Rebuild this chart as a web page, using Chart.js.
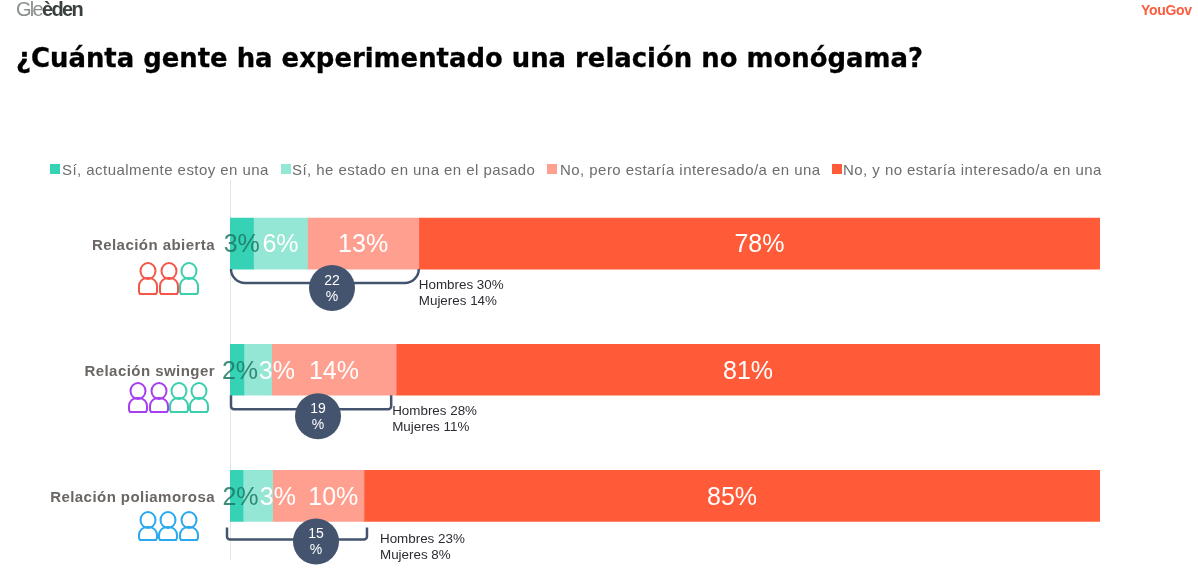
<!DOCTYPE html>
<html lang="es">
<head>
<meta charset="utf-8">
<title>¿Cuánta gente ha experimentado una relación no monógama?</title>
<script src="https://cdn.jsdelivr.net/npm/chart.js@4"></script>
<style>
  html, body { margin: 0; padding: 0; background: #fff; overflow: hidden; }
  #wrap { position: relative; width: 1198px; height: 574px; overflow: hidden; font-family: "Liberation Sans", sans-serif; }
  canvas { position: absolute; left: 0; top: 0; }
  .abs { position: absolute; white-space: nowrap; }
  #title { left: 16px; top: 42px; margin: 0; font-family: "DejaVu Sans", sans-serif; font-size: 25.9px; line-height: 32px; font-weight: bold; color: #000; -webkit-text-stroke: 0.3px #000; }
  #logo-left { left: 16px; top: -3px; font-size: 20px; line-height: 24px; letter-spacing: -1.7px; color: #8a8f8f; }
  #logo-left b { color: #39403f; }
  #logo-right { left: 1141px; top: 2px; font-size: 14px; line-height: 16px; font-weight: bold; color: #ff5b3c; letter-spacing: -0.3px; }
  .legend-box { width: 10px; height: 10px; top: 164px; }
  .legend-text { top: 161px; font-size: 15px; line-height: 18px; color: #6d6d6d; letter-spacing: 0.45px; }
</style>
</head>
<body>
<div id="wrap">
  <canvas id="chart" width="1198" height="583"></canvas>
  <div class="abs" id="logo-left">Gle<b>èden</b></div>
  <div class="abs" id="logo-right">YouGov</div>
  <h1 class="abs" id="title">¿Cuánta gente ha experimentado una relación no monógama?</h1>
  <div id="legend"></div>
</div>
<script>
// data
const categories = ["Relación abierta", "Relación swinger", "Relación poliamorosa"];
const seriesNames = [
  "Sí, actualmente estoy en una",
  "Sí, he estado en una en el pasado",
  "No, pero estaría interesado/a en una",
  "No, y no estaría interesado/a en una",
];
const currently = [2.7, 1.6, 1.5];
const past = [6.2, 3.2, 3.4];
const interested = [12.8, 14.3, 10.5];
const notInterested = [78.3, 80.9, 84.6];
const currentlyLabels = ["3%", "2%", "2%"];
const pastLabels = ["6%", "3%", "3%"];
const interestedLabels = ["13%", "14%", "10%"];
const notInterestedLabels = ["78%", "81%", "85%"];
const totalLabels = ["22", "19", "15"];
const menLabels = ["Hombres 30%", "Hombres 28%", "Hombres 23%"];
const womenLabels = ["Mujeres 14%", "Mujeres 11%", "Mujeres 8%"];

// styles and layout, kept apart from the values
const seriesColors = ["#35d2b5", "#95e7d5", "#ff9f8f", "#ff5b38"];
const labelColors = ["rgba(30,120,100,0.85)", "#fff", "#fff", "#fff"];
const legendLefts = [50, 281, 547, 832];
const legendTextLefts = [62, 292, 560, 843];
const labelShifts = [
  [0, 0, 0, 0],
  [3, 19, 0, 0],
  [4, 20, 15, 0],
];
const bubbleColor = "#44546f";
const bracketLayout = [
  { startDx: 1, endDx: 0, gap: 0, drop: 14, radius: 14, bubbleDx: 102, bubbleDy: 19 },
  { startDx: 1, endDx: -5, gap: 0, drop: 14, radius: 3, bubbleDx: 88, bubbleDy: 21 },
  { startDx: -3, endDx: 3, gap: 6, drop: 12, radius: 3, bubbleDx: 86, bubbleDy: 14 },
];
const genderLayout = [
  { dx: 0, dy: 15 },
  { dx: -4, dy: 15 },
  { dx: 16, dy: 13 },
];
const peopleLayout = [
  { lefts: [139, 160, 180], top: 263, height: 31, colors: ["#f4564a", "#f4564a", "#3ccfae"] },
  { lefts: [129, 150, 170, 190], top: 383, height: 29, colors: ["#a53ff0", "#a53ff0", "#3ccfae", "#3ccfae"] },
  { lefts: [139, 159, 180], top: 512, height: 28, colors: ["#2ba9ee", "#2ba9ee", "#2ba9ee"] },
];

// legend
const legendEl = document.getElementById("legend");
seriesNames.forEach((name, i) => {
  const box = document.createElement("div");
  box.className = "abs legend-box";
  box.style.left = legendLefts[i] + "px";
  box.style.background = seriesColors[i];
  const text = document.createElement("div");
  text.className = "abs legend-text";
  text.style.left = legendTextLefts[i] + "px";
  text.textContent = name;
  legendEl.appendChild(box);
  legendEl.appendChild(text);
});

function drawPerson(ctx, left, top, height, color) {
  const w = 18;
  const cx = left + w / 2;
  const headRy = 8;
  const bodyTop = top + headRy * 2 - 1;
  const bottom = top + height;
  const r = 8;
  ctx.strokeStyle = color;
  ctx.lineWidth = 2;
  ctx.beginPath();
  ctx.ellipse(cx, top + headRy, 7.5, headRy, 0, 0, Math.PI * 2);
  ctx.stroke();
  ctx.beginPath();
  ctx.moveTo(left + 1, bottom);
  ctx.lineTo(left + w - 1, bottom);
  ctx.lineTo(left + w, bottom - 2);
  ctx.lineTo(left + w, bodyTop + r);
  ctx.arcTo(left + w, bodyTop, cx, bodyTop, r);
  ctx.arcTo(left, bodyTop, left, bodyTop + r, r);
  ctx.lineTo(left, bottom - 2);
  ctx.closePath();
  ctx.stroke();
}

// wider tracking on the category labels, as in the original
const tickSpacing = {
  id: "tickSpacing",
  beforeDraw(chart) {
    chart.ctx.letterSpacing = "0.45px";
  },
};

// labels, brackets, bubbles and people icons
const annotations = {
  id: "annotations",
  afterDatasetsDraw(chart) {
    const ctx = chart.ctx;
    const x = chart.scales.x;
    const labelSets = [currentlyLabels, pastLabels, interestedLabels, notInterestedLabels];

    ctx.save();
    ctx.letterSpacing = "0px";
    ctx.textAlign = "center";
    ctx.textBaseline = "middle";
    ctx.font = '25px "Liberation Sans"';
    chart.data.datasets.forEach((ds, d) => {
      chart.getDatasetMeta(d).data.forEach((bar, row) => {
        ctx.fillStyle = labelColors[d];
        ctx.fillText(labelSets[d][row], (bar.x + bar.base) / 2 + labelShifts[row][d], bar.y + 2);
      });
    });

    chart.getDatasetMeta(0).data.forEach((bar, row) => {
      const layout = bracketLayout[row];
      const stackEnd = x.getPixelForValue(currently[row] + past[row] + interested[row]);
      const x0 = x.getPixelForValue(0) + layout.startDx;
      const x1 = stackEnd + layout.endDx;
      const y0 = bar.y + 25.5 + layout.gap;
      const y1 = y0 + layout.drop;

      ctx.strokeStyle = bubbleColor;
      ctx.lineWidth = 2.5;
      ctx.beginPath();
      ctx.moveTo(x0, y0);
      ctx.arcTo(x0, y1, x1, y1, layout.radius);
      ctx.arcTo(x1, y1, x1, y0, layout.radius);
      ctx.lineTo(x1, y0);
      ctx.stroke();

      const bx = x.getPixelForValue(0) + layout.bubbleDx;
      const by = y0 + layout.bubbleDy;
      ctx.fillStyle = bubbleColor;
      ctx.beginPath();
      ctx.arc(bx, by, 23, 0, Math.PI * 2);
      ctx.fill();
      ctx.fillStyle = "#fff";
      ctx.textAlign = "center";
      ctx.font = '14px "Liberation Sans"';
      ctx.fillText(totalLabels[row], bx, by - 7);
      ctx.fillText("%", bx, by + 9);

      const gender = genderLayout[row];
      ctx.fillStyle = "#2b2b33";
      ctx.textAlign = "left";
      ctx.font = '13.4px "Liberation Sans"';
      ctx.fillText(menLabels[row], stackEnd + gender.dx, y1 + gender.dy - 13);
      ctx.fillText(womenLabels[row], stackEnd + gender.dx, y1 + gender.dy + 3);
      ctx.textAlign = "center";

      const people = peopleLayout[row];
      people.lefts.forEach((left, i) => {
        drawPerson(ctx, left, people.top, people.height, people.colors[i]);
      });
    });
    ctx.restore();
  },
};

new Chart(document.getElementById("chart"), {
  type: "bar",
  data: {
    labels: categories,
    datasets: [currently, past, interested, notInterested].map((values, i) => ({
      label: seriesNames[i],
      data: values,
      backgroundColor: seriesColors[i],
      borderWidth: 0,
      barThickness: 51,
    })),
  },
  options: {
    indexAxis: "y",
    responsive: false,
    animation: false,
    layout: { padding: { top: 180.5, right: 98, bottom: 6.5, left: 0 } },
    scales: {
      x: { stacked: true, min: 0, max: 100, display: false },
      y: {
        stacked: true,
        afterFit(scale) { scale.width = 230; },
        grid: { display: false, drawTicks: false },
        border: { display: true, color: "#e4e4e4", width: 1 },
        ticks: {
          color: "#6b6663",
          padding: 15,
          labelOffset: 2,
          font: { family: "Liberation Sans", size: 15, weight: "bold" },
        },
      },
    },
    plugins: {
      legend: { display: false },
      tooltip: { enabled: false },
    },
  },
  plugins: [tickSpacing, annotations],
});
</script>
</body>
</html>
